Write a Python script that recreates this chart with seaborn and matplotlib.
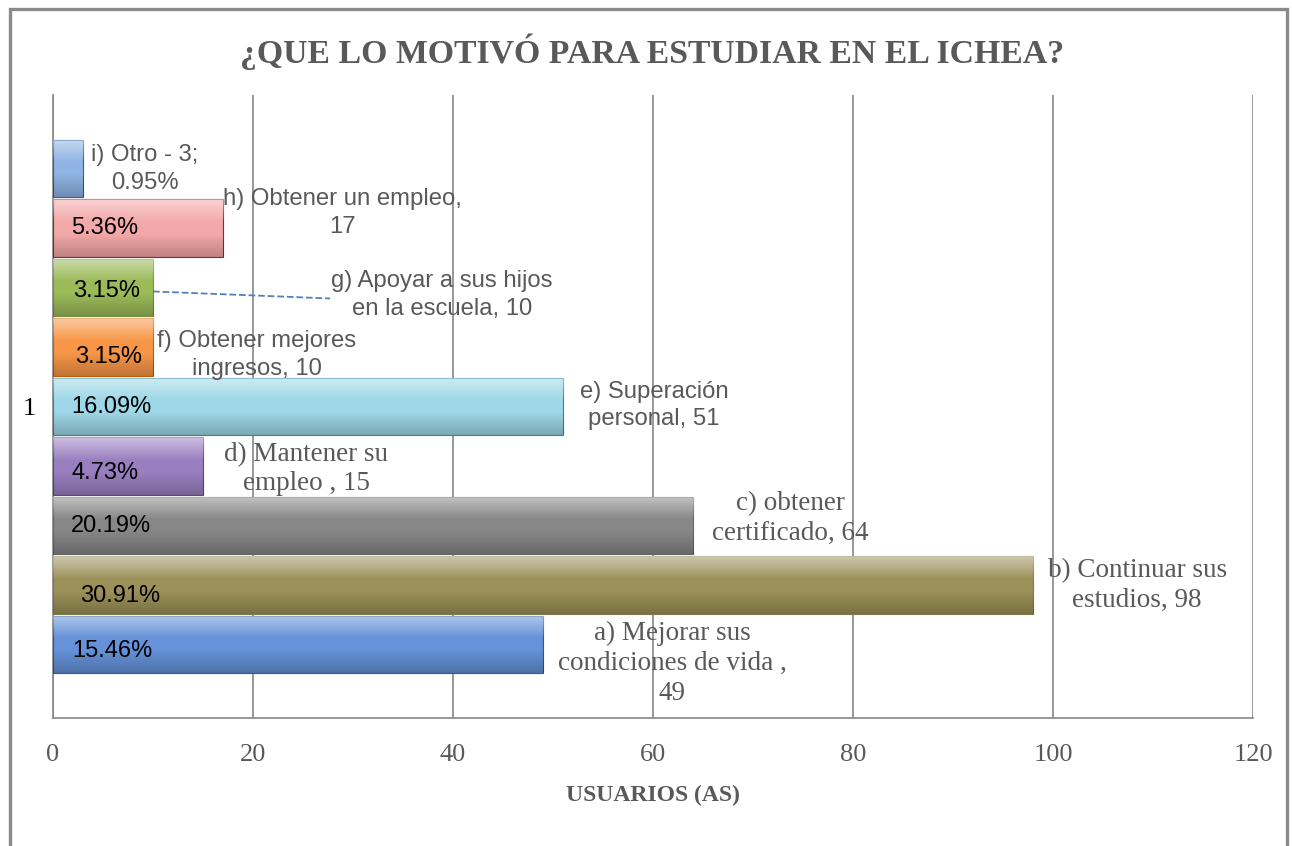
import numpy as np
import pandas as pd
import matplotlib
matplotlib.use("Agg")
import matplotlib.pyplot as plt
import seaborn as sns
from matplotlib.patches import Rectangle

# ==========================================
# Data (bars listed top to bottom as drawn)
# ==========================================
motivos = ["i) Otro", "h) Obtener un empleo", "g) Apoyar a sus hijos en la escuela",
           "f) Obtener mejores ingresos", "e) Superación personal", "d) Mantener su empleo",
           "c) obtener certificado", "b) Continuar sus estudios",
           "a) Mejorar sus condiciones de vida"]
usuarios = [3, 17, 10, 10, 51, 15, 64, 98, 49]
porcentajes = ["", "5.36%", "3.15%", "3.15%", "16.09%", "4.73%", "20.19%", "30.91%", "15.46%"]
etiquetas = ["i) Otro - 3;\n0.95%", "h) Obtener un empleo,\n17",
             "g) Apoyar a sus hijos\nen la escuela, 10", "f) Obtener mejores\ningresos, 10",
             "e) Superación\npersonal, 51", "d) Mantener su\nempleo , 15",
             "c) obtener\ncertificado, 64", "b) Continuar sus\nestudios, 98",
             "a) Mejorar sus\ncondiciones de vida ,\n49"]
grupo = ["1"] * len(motivos)

colores = ["#8fb4e3", "#f3a8a9", "#9bbb59", "#f79646", "#9ed8e8", "#9a7fc0",
           "#878787", "#9c9159", "#6592d8"]

# label layout (x centre in data units, vertical shift in px, serif font?)
lab_x = [9.2, 28.9, 38.9, 20.4, 60.1, 25.3, 73.7, 108.4, 61.9]
lab_dy = [1, -15, 8, 8, -1, 3, -7, 0, 19]
lab_serif = [False, False, False, False, False, True, True, True, True]
pct_x = [1.8, 1.8, 2.0, 2.2, 1.8, 1.9, 1.8, 2.7, 1.9]
pct_dy = [0, 0, 4, 10, 0, 7, 0, 11, 6]

df = pd.DataFrame({"grupo": grupo, "motivo": motivos, "usuarios": usuarios})

SANS = "Liberation Sans"
SERIF = "Liberation Serif"
GRIS = "#595959"

sns.set_theme(style="white")
plt.rcParams["font.family"] = [SANS, "DejaVu Sans"]

fig = plt.figure(figsize=(12.92, 8.46), dpi=100)
fig.patch.set_facecolor("white")
ax = fig.add_axes([0.041, 0.1513, 0.929, 0.7364])

sns.barplot(data=df, x="usuarios", y="grupo", hue="motivo", hue_order=motivos,
            palette=colores, orient="h", width=0.86, gap=0.03, dodge=True,
            saturation=1, legend=False, ax=ax, zorder=3)

ax.set_xlim(0, 120)
ax.set_ylim(0.5, -0.5)

# soft bevel-like shading on each bar
t = np.linspace(0, 1, 80)
grad = np.zeros((80, 1, 4))
a_white = np.clip(0.5 * (1 - t / 0.4), 0, None)
a_black = np.clip(0.22 * (t - 0.6) / 0.4, 0, None)
grad[:, 0, :3] = np.where(a_white[:, None] > 0, 1.0, 0.0)
grad[:, 0, 3] = a_white + a_black

bars = list(ax.patches)
for p, col in zip(bars, colores):
    p.set_edgecolor(sns.set_hls_values(col, l=0.4))
    p.set_linewidth(0.8)
    x0, y0, w, h = p.get_x(), p.get_y(), p.get_width(), p.get_height()
    im = ax.imshow(grad, extent=(x0, x0 + w, y0 + h, y0), aspect="auto",
                   interpolation="bilinear", zorder=3.5)
    im.set_clip_path(p)

ax.set_xlim(0, 120)
ax.set_ylim(0.5, -0.5)

# labels
for i, p in enumerate(bars):
    yc = p.get_y() + p.get_height() / 2
    if lab_serif[i]:
        fam, fs, ls = [SERIF], 19.5, 1.25
    else:
        fam, fs, ls = [SANS], 17.2, 1.35
    ax.annotate(etiquetas[i], xy=(lab_x[i], yc), xytext=(0, -lab_dy[i] * 0.72),
                textcoords="offset points", ha="center", va="center",
                fontsize=fs, color=GRIS, family=fam, zorder=6, linespacing=ls)
    if porcentajes[i]:
        ax.annotate(porcentajes[i], xy=(pct_x[i], yc), xytext=(0, -pct_dy[i] * 0.72),
                    textcoords="offset points", ha="left", va="center",
                    fontsize=17, color="black", family=[SANS], zorder=6)

# leader line for g)
pg = bars[2]
yg = pg.get_y() + pg.get_height() / 2
ax.plot([pg.get_width(), 27.7], [yg + 4 / 621, yg + 11 / 621], ls="--",
        color="#4f81bd", lw=1.3, zorder=6)

# axes styling
ax.set_xticks(range(0, 121, 20))
ax.grid(axis="x", color="#868686", lw=1.2)
ax.grid(axis="y", visible=False)
ax.set_axisbelow(True)
for s in ["top", "right"]:
    ax.spines[s].set_visible(False)
for s in ["left", "bottom"]:
    ax.spines[s].set_color("#868686")
    ax.spines[s].set_linewidth(1.2)
ax.tick_params(axis="x", length=0, pad=19, labelsize=19, labelcolor=GRIS)
ax.tick_params(axis="y", length=0, pad=12, labelsize=19, labelcolor="black")
for lbl in ax.get_xticklabels() + ax.get_yticklabels():
    lbl.set_family(SERIF)
ax.set_ylabel("")
ax.set_xlabel("USUARIOS (AS)", fontsize=17, fontweight="bold", color=GRIS, family=SERIF)
ax.xaxis.label.set_va("center")
ax.xaxis.set_label_coords(0.5, -0.124)

fig.text(0.505, 0.9385, "¿QUE LO MOTIVÓ PARA ESTUDIAR EN EL ICHEA?", ha="center",
         va="center", fontsize=24.3, fontweight="bold", color=GRIS, family=SERIF)

# outer frame
fig.add_artist(Rectangle((0.0078, -0.1), 0.9884, 1.089, transform=fig.transFigure,
                         fill=False, ec="#8a8a8a", lw=2.4))

fig.savefig("out.png", dpi=100)
